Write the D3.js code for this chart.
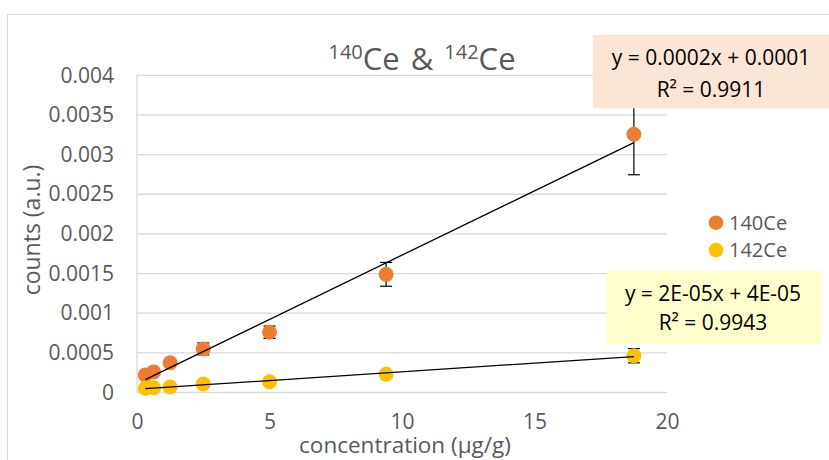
<!DOCTYPE html>
<html>
<head>
<meta charset="utf-8">
<script src="https://cdn.jsdelivr.net/npm/d3@7"></script>
<style>
  body { margin: 0; background: #fff; }
  svg text { font-family: "Open Sans", sans-serif; }
</style>
</head>
<body>
<div id="chart"></div>
<script>
var conc = [0.3125, 0.625, 1.25, 2.5, 5, 9.4, 18.75];
var ce140 = [0.00022, 0.00026, 0.000376, 0.00055, 0.00076, 0.00149, 0.003256];
var ce140Err = [0.00002, 0.00002, 0.00002, 0.000075, 0.000078, 0.00015, 0.00051];
var ce142 = [0.000053, 0.00006, 0.00007, 0.000107, 0.000136, 0.00023, 0.000464];
var ce142Err = [0.000005, 0.000005, 0.000005, 0.00001, 0.00001, 0.00002, 0.00009];
var seriesNames = ["140Ce", "142Ce"];
var xTicks = [0, 5, 10, 15, 20];
var yTicks = [0, 0.0005, 0.001, 0.0015, 0.002, 0.0025, 0.003, 0.0035, 0.004];
var eq140 = ["y = 0.0002x + 0.0001", "R² = 0.9911"];
var eq142 = ["y = 2E-05x + 4E-05", "R² = 0.9943"];

var width = 829, height = 460;
var plot = {left: 137, right: 667, top: 75.3, bottom: 392.5};
var colors = ["#ED7D31", "#FFC000"];

var svg = d3.select("#chart")
    .append("svg")
        .attr("width", width)
        .attr("height", height);

// chart border (runs off the right/bottom edge)
svg.append("rect")
    .attr("x", 7.5).attr("y", 14.5)
    .attr("width", 900).attr("height", 500)
    .attr("fill", "none")
    .attr("stroke", "#d9d9d9");

var x = d3.scaleLinear().domain([0, 20]).range([plot.left, plot.right]);
var y = d3.scaleLinear().domain([0, 0.004]).range([plot.bottom, plot.top]);

// gridlines
svg.append("g")
    .selectAll("line")
    .data(yTicks)
    .enter()
    .append("line")
        .attr("x1", plot.left).attr("x2", plot.right)
        .attr("y1", function(d) { return y(d); })
        .attr("y2", function(d) { return y(d); })
        .attr("stroke", "#d9d9d9")
        .attr("stroke-width", 1.3);

svg.append("line")
    .attr("x1", plot.left).attr("x2", plot.left)
    .attr("y1", plot.top).attr("y2", plot.bottom)
    .attr("stroke", "#d9d9d9")
    .attr("stroke-width", 1.3);

// axes labels
var yAxis = svg.append("g")
    .attr("transform", "translate(" + plot.left + ",0)")
    .call(d3.axisLeft(y).tickValues(yTicks).tickSize(0).tickPadding(23)
        .tickFormat(function(d) { return String(+d.toFixed(4)); }));
yAxis.select(".domain").remove();
yAxis.selectAll("text")
    .style("font-size", "21px")
    .attr("fill", "#595959");

var xAxis = svg.append("g")
    .attr("transform", "translate(0," + plot.bottom + ")")
    .call(d3.axisBottom(x).tickValues(xTicks).tickSize(0).tickPadding(22));
xAxis.select(".domain").remove();
xAxis.selectAll("text")
    .style("font-size", "21px")
    .attr("fill", "#595959");

// axis titles
svg.append("text")
    .attr("x", 405).attr("y", 453)
    .attr("text-anchor", "middle")
    .style("font-size", "22.5px")
    .attr("fill", "#595959")
    .text("concentration (μg/g)");

svg.append("text")
    .attr("transform", "translate(40,230)rotate(-90)")
    .attr("text-anchor", "middle")
    .style("font-size", "23px")
    .attr("fill", "#595959")
    .text("counts (a.u.)");

// title
var title = svg.append("text")
    .attr("x", 422).attr("y", 69.5)
    .attr("text-anchor", "middle")
    .attr("fill", "#595959")
    .style("font-size", "31px");
title.append("tspan").style("font-size", "20px").attr("dy", -11).text("140");
title.append("tspan").attr("dy", 11).text("Ce");
title.append("tspan").attr("dx", 11).text("&");
title.append("tspan").style("font-size", "20px").attr("dx", 11).attr("dy", -11).text("142");
title.append("tspan").attr("dy", 11).text("Ce");

var series = [
    {name: seriesNames[0], vals: ce140, err: ce140Err, color: colors[0]},
    {name: seriesNames[1], vals: ce142, err: ce142Err, color: colors[1]}
];

// error bars (under the markers)
series.forEach(function(s) {
    var g = svg.append("g").attr("stroke", "#000").attr("stroke-width", 1.2);
    conc.forEach(function(d, i) {
        var hi = y(s.vals[i] + s.err[i]), lo = y(s.vals[i] - s.err[i]);
        g.append("line").attr("x1", x(d)).attr("x2", x(d)).attr("y1", hi).attr("y2", lo);
        g.append("line").attr("x1", x(d) - 6).attr("x2", x(d) + 6).attr("y1", hi).attr("y2", hi);
        g.append("line").attr("x1", x(d) - 6).attr("x2", x(d) + 6).attr("y1", lo).attr("y2", lo);
    });
});

// markers
series.forEach(function(s) {
    svg.append("g")
        .selectAll("circle")
        .data(conc)
        .enter()
        .append("circle")
            .attr("cx", function(d) { return x(d); })
            .attr("cy", function(d, i) { return y(s.vals[i]); })
            .attr("r", 7.5)
            .attr("fill", s.color);
});

// trendlines (least squares)
series.forEach(function(s) {
    var mx = d3.mean(conc), my = d3.mean(s.vals);
    var sxy = d3.sum(conc, function(d, i) { return (d - mx) * (s.vals[i] - my); });
    var sxx = d3.sum(conc, function(d) { return (d - mx) * (d - mx); });
    var b = sxy / sxx, a = my - b * mx;
    var x0 = d3.min(conc), x1 = d3.max(conc);
    svg.append("line")
        .attr("x1", x(x0)).attr("y1", y(a + b * x0))
        .attr("x2", x(x1)).attr("y2", y(a + b * x1))
        .attr("stroke", "#000")
        .attr("stroke-width", 1.3);
});

// legend
var legend = svg.append("g")
    .selectAll("g")
    .data(series)
    .enter()
    .append("g")
        .attr("transform", function(d, i) { return "translate(716," + (222.7 + i * 27.3) + ")"; });
legend.append("circle").attr("r", 7.3).attr("fill", function(d) { return d.color; });
legend.append("text")
    .attr("x", 13).attr("dy", "0.35em")
    .style("font-size", "20px")
    .attr("fill", "#595959")
    .text(function(d) { return d.name; });

// equation labels
function eqBox(lines, bx, by, bw, bh, fill, cx, base1, base2) {
    svg.append("rect")
        .attr("x", bx).attr("y", by)
        .attr("width", bw).attr("height", bh)
        .attr("fill", fill);
    svg.append("text")
        .attr("x", cx).attr("y", base1)
        .attr("text-anchor", "middle")
        .style("font-size", "21px")
        .attr("fill", "#000")
        .text(lines[0]);
    svg.append("text")
        .attr("x", cx).attr("y", base2)
        .attr("text-anchor", "middle")
        .style("font-size", "21px")
        .attr("fill", "#000")
        .text(lines[1]);
}
eqBox(eq140, 592.7, 35, 240, 73.3, "#FBE5D6", 711, 65, 96.7);
eqBox(eq142, 606.7, 271, 214.3, 73.3, "#FFFFCC", 713, 301, 330);
</script>
</body>
</html>
